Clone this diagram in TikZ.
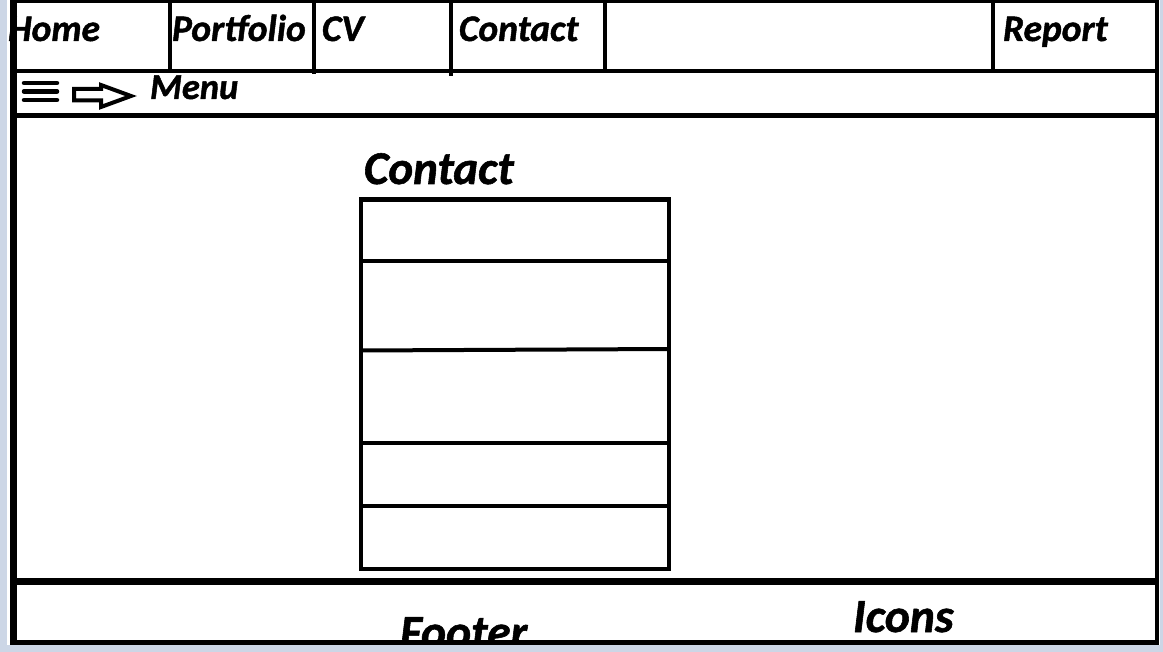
\documentclass[tikz,border=0pt]{standalone}
\usepackage{fontspec}
\setmainfont{Carlito}[BoldItalicFeatures={FakeBold=1.2}]
\begin{document}
\begin{tikzpicture}[x=1bp,y=-1bp,
  lbl/.style={inner sep=0pt,outer sep=0pt,anchor=base west,font=\bfseries\itshape\fontsize{37.5bp}{40bp}\selectfont},
  menulbl/.style={lbl,font=\bfseries\itshape\fontsize{36.5bp}{38bp}\selectfont},
  headlbl/.style={lbl,font=\bfseries\itshape\fontsize{47bp}{50bp}\selectfont},
  footlbl/.style={lbl,font=\bfseries\itshape\fontsize{47.5bp}{50bp}\selectfont},
  frameline/.style={line width=4bp},
  boxline/.style={line width=4bp,line join=miter},
  chrome/.style={fill=chromecol,draw=none}]
\definecolor{chromecol}{HTML}{CCD6E6}
\useasboundingbox (0,0) rectangle (1163,652);
\fill[white] (0,0) rectangle (1163,652);
% texts
\node[lbl] (home) at (8,41) {Home};
\node[lbl] (portfolio) at (172,41) {Portfolio};
\node[lbl] (cv) at (322,41) {CV};
\node[lbl] (navcontact) at (459,41) {Contact};
\node[lbl] (report) at (1003,41) {Report};
\node[menulbl] (menu) at (150,99) {Menu};
\node[headlbl] (heading) at (364,184) {Contact};
\node[footlbl] (footer) at (400,648) {Footer};
\node[footlbl] (icons) at (853,632) {Icons};
% navigation bar
\draw[line width=3bp] (10,1.5) -- (1157,1.5);
\draw[frameline] (169.5,1.5) -- (169.5,71);
\draw[frameline] (314,1.5) -- (314,74);
\draw[frameline] (451,1.5) -- (451,76);
\draw[frameline] (605,1.5) -- (605,70);
\draw[frameline] (993,1.5) -- (993,72);
\draw[frameline] (13,71) -- (1155,71);
% menu row
\draw[line width=4.5bp,line cap=round] (24,83) -- (57,83);
\draw[line width=4.5bp,line cap=round] (24,91.5) -- (57,91.5);
\draw[line width=4.5bp,line cap=round] (24,100) -- (57,100);
\draw[line width=4bp,line join=miter] (74,89) -- (101,89) -- (101,85) -- (131,96) -- (101,107) -- (101,100.5) -- (74,100.5) -- cycle;
\draw[line width=5bp] (13,115.5) -- (1157,115.5);
% contact form
\draw[boxline] (361,199.5) rectangle (669,569);
\draw[boxline] (361,261) -- (669,261);
\draw[boxline] (361,350.5) -- (669,349);
\draw[boxline] (361,443) -- (669,443);
\draw[boxline] (361,506) -- (669,506);
% footer
\draw[line width=7bp] (13,581) -- (1157,581);
\draw[line width=5bp] (13,642.5) -- (1157,642.5);
% outer frame
\draw[line width=7bp] (13.5,0) -- (13.5,645);
\draw[frameline] (1157,0) -- (1157,645);
% window chrome
\fill[chrome] (0,645) rectangle (1163,652);
\fill[chrome] (0,0) rectangle (7,652);
\fill[chrome] (1159.5,0) rectangle (1163,652);
\end{tikzpicture}
\end{document}
